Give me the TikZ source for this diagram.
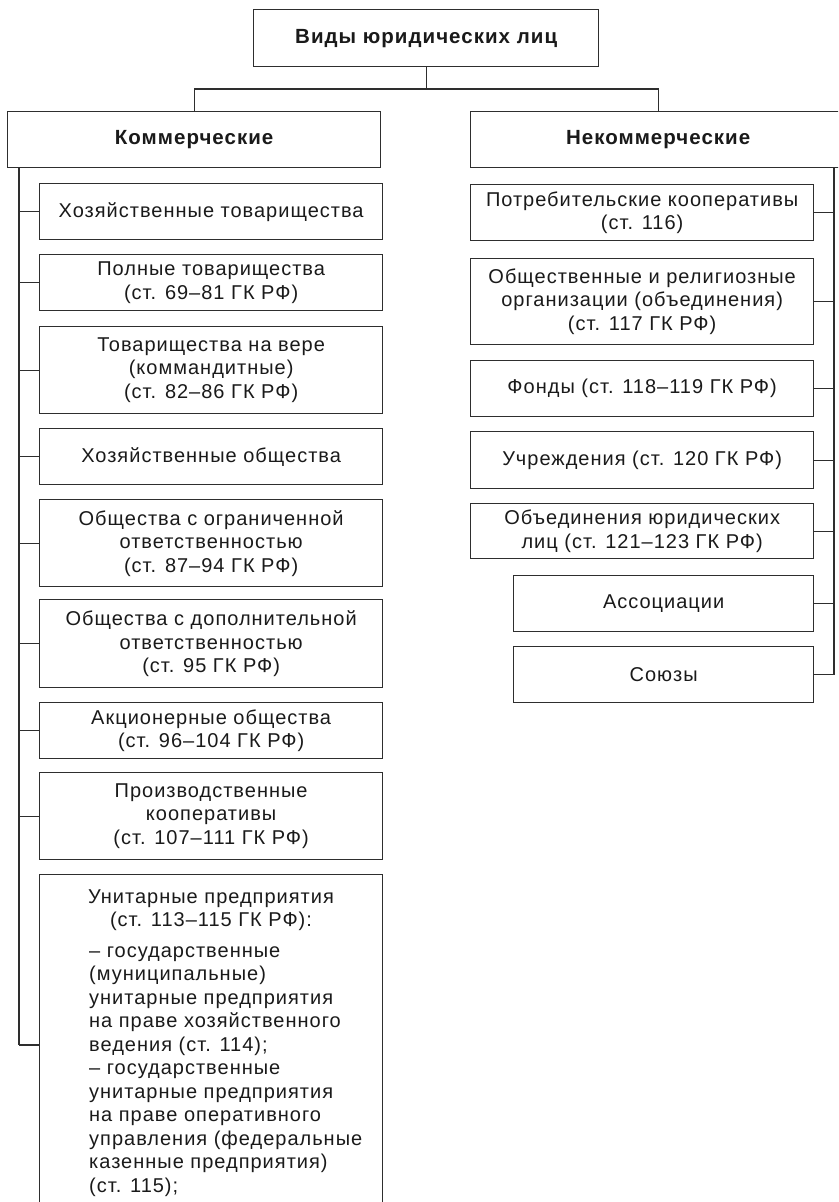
\documentclass[tikz,border=0pt]{standalone}
\usepackage{fontspec}
\setmainfont{Liberation Sans}[LetterSpace=5]
\definecolor{linec}{HTML}{2E2E2E}
\definecolor{txt}{HTML}{1A1A1A}
\newcommand\normtext{\fontsize{20}{23.5}\selectfont}
\newcommand\boldtext{\fontsize{20.5}{24}\selectfont\bfseries}
\begin{document}
\begin{tikzpicture}[x=1pt,y=-1pt,
  box/.style={draw=linec, line width=1.3pt, inner sep=0pt, align=center, text=txt, font=\normtext, anchor=north west},
  conn/.style={draw=linec, line width=1.2pt}]
\useasboundingbox (0,0) rectangle (838,1202);
\clip (0,0) rectangle (838,1202);
\fill[white] (0,0) rectangle (838,1202);
% top level
\node[box,font=\boldtext,minimum width=345pt,minimum height=57pt] (top) at (253,9) {Виды юридических лиц};
\node[box,font=\boldtext,minimum width=373pt,minimum height=56pt] (comm) at (7,111) {Коммерческие};
\node[box,font=\boldtext,minimum width=375pt,minimum height=56pt] (nonc) at (470,111) {Некоммерческие};
% left column
\node[box,minimum width=343pt,minimum height=56pt] (L1) at (39,183) {Хозяйственные товарищества};
\node[box,minimum width=343pt,minimum height=56pt] (L2) at (39,254) {Полные товарищества\\(ст. 69–81 ГК РФ)};
\node[box,minimum width=343pt,minimum height=87pt] (L3) at (39,326) {Товарищества на вере\\(коммандитные)\\(ст. 82–86 ГК РФ)};
\node[box,minimum width=343pt,minimum height=56pt] (L4) at (39,428) {Хозяйственные общества};
\node[box,minimum width=343pt,minimum height=87pt] (L5) at (39,499) {Общества с ограниченной\\ответственностью\\(ст. 87–94 ГК РФ)};
\node[box,minimum width=343pt,minimum height=88pt] (L6) at (39,599) {Общества с дополнительной\\ответственностью\\(ст. 95 ГК РФ)};
\node[box,minimum width=343pt,minimum height=56pt] (L7) at (39,702) {Акционерные общества\\(ст. 96–104 ГК РФ)};
\node[box,minimum width=343pt,minimum height=87pt] (L8) at (39,772) {Производственные\\кооперативы\\(ст. 107–111 ГК РФ)};
\node[box,minimum width=343pt,minimum height=360pt] (L9) at (39,874) {};
\node[anchor=north,inner sep=0pt,align=center,text=txt,font=\normtext] (L9h) at (211,886.5) {\strut Унитарные предприятия\\(ст. 113–115 ГК РФ):};
\node[anchor=north west,inner sep=0pt,align=left,text=txt,font=\normtext] (L9t) at (89,940.5) {\strut – государственные\\(муниципальные)\\унитарные предприятия\\на праве хозяйственного\\ведения (ст. 114);\\– государственные\\унитарные предприятия\\на праве оперативного\\управления (федеральные\\казенные предприятия)\\(ст. 115);};
% right column
\node[box,minimum width=343pt,minimum height=56pt] (R1) at (470,184) {Потребительские кооперативы\\(ст. 116)};
\node[box,minimum width=343pt,minimum height=86pt] (R2) at (470,258) {Общественные и религиозные\\организации (объединения)\\(ст. 117 ГК РФ)};
\node[box,minimum width=343pt,minimum height=56pt] (R3) at (470,360) {Фонды (ст. 118–119 ГК РФ)};
\node[box,minimum width=343pt,minimum height=57pt] (R4) at (470,431) {Учреждения (ст. 120 ГК РФ)};
\node[box,minimum width=343pt,minimum height=55pt] (R5) at (470,503) {Объединения юридических\\лиц (ст. 121–123 ГК РФ)};
\node[box,minimum width=300pt,minimum height=56pt] (R6) at (513,575) {Ассоциации};
\node[box,minimum width=300pt,minimum height=56pt] (R7) at (513,646) {Союзы};
% connectors top
\coordinate (hy) at (0,89);
\draw[conn] (top.south) -- (top.south |- hy);
\draw[conn] (comm.north) -- (comm.north |- hy) -| (nonc.north);
% left trunk
\coordinate (lbot) at (19,1045);
\draw[conn] (lbot |- comm.south) -- (lbot);
\foreach \n in {L1,L2,L3,L4,L5,L6,L7,L8} {\draw[conn] (lbot |- \n.west) -- (\n.west);}
\draw[conn] (lbot) -- (lbot -| L9.west);
% right trunk
\coordinate (rtr) at (834,0);
\draw[conn] (rtr |- nonc.south) -- (rtr |- R7.east);
\foreach \n in {R1,R2,R3,R4,R5,R6,R7} {\draw[conn] (\n.east) -- (\n.east -| rtr);}
\end{tikzpicture}
\end{document}
